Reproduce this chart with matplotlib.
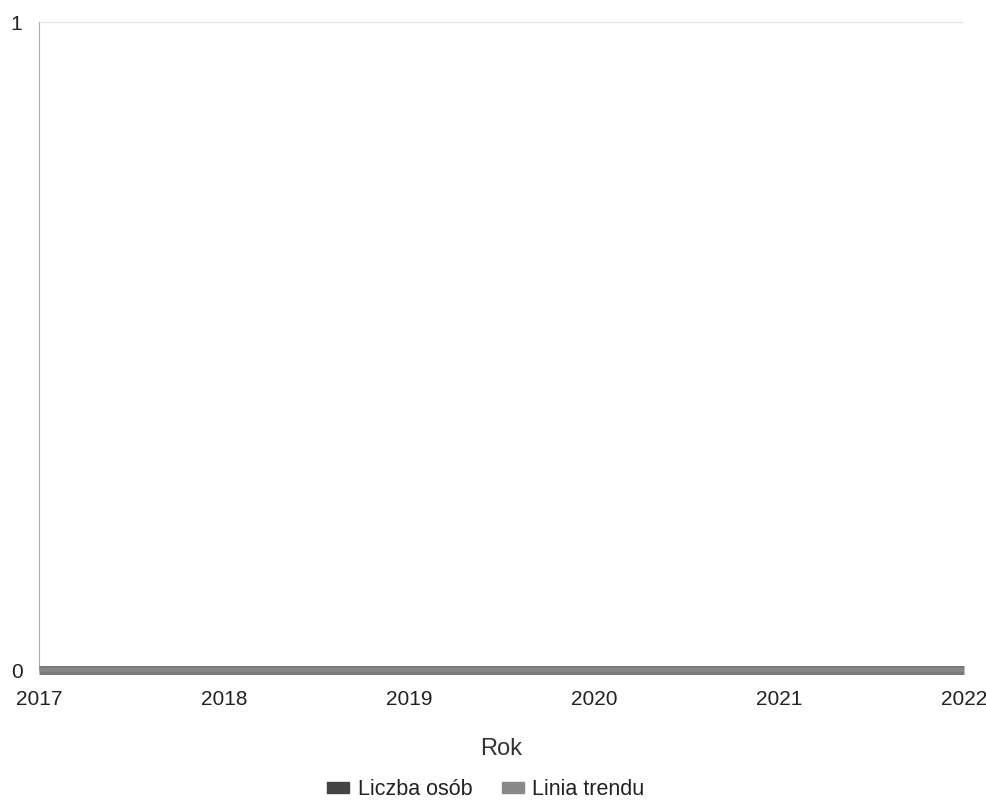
import matplotlib.pyplot as plt

# data
years = [2017, 2018, 2019, 2020, 2021, 2022]
liczba_osob = [0, 0, 0, 0, 0, 0]
linia_trendu = [0, 0, 0, 0, 0, 0]

plt.rcParams['font.family'] = ['Liberation Sans', 'DejaVu Sans']

fig = plt.figure(figsize=(9.86, 8.01), dpi=100)
ax = fig.add_axes([0.0396, 0.163, 0.938, 0.8095])

ax.plot(years, liczba_osob, color='#7a7a7a', lw=6.5, solid_capstyle='butt', label='Liczba osób', zorder=3, clip_on=False)
ax.plot(years, linia_trendu, color='#999999', lw=3.0, solid_capstyle='butt', label='Linia trendu', zorder=4, alpha=0.4, clip_on=False)

ax.set_xlim(2017, 2022)
ax.set_ylim(0, 1)
ax.set_xticks(years)
ax.set_yticks([0, 1])
ax.tick_params(axis='both', length=0, labelsize=15, colors='#222222')
ax.tick_params(axis='x', pad=14)
ax.tick_params(axis='y', pad=12)
ax.grid(axis='y', color='#e6e6e6', lw=1)
ax.set_axisbelow(True)
for s in ['top', 'right', 'bottom']:
    ax.spines[s].set_visible(False)
ax.spines['left'].set_color('#aaaaaa')

ax.set_xlabel('Rok', fontsize=17, color='#333333', labelpad=21)

handles = [plt.Rectangle((0, 0), 1, 1, color='#444444'), plt.Rectangle((0, 0), 1, 1, color='#888888')]
fig.legend(handles, ['Liczba osób', 'Linia trendu'], loc='center', bbox_to_anchor=(0.493, 0.014),
           ncol=2, frameon=False, fontsize=15.5, handlelength=1.0, handleheight=0.35,
           handletextpad=0.4, columnspacing=1.4, labelcolor='#222222')

fig.savefig('out.png', dpi=100)
